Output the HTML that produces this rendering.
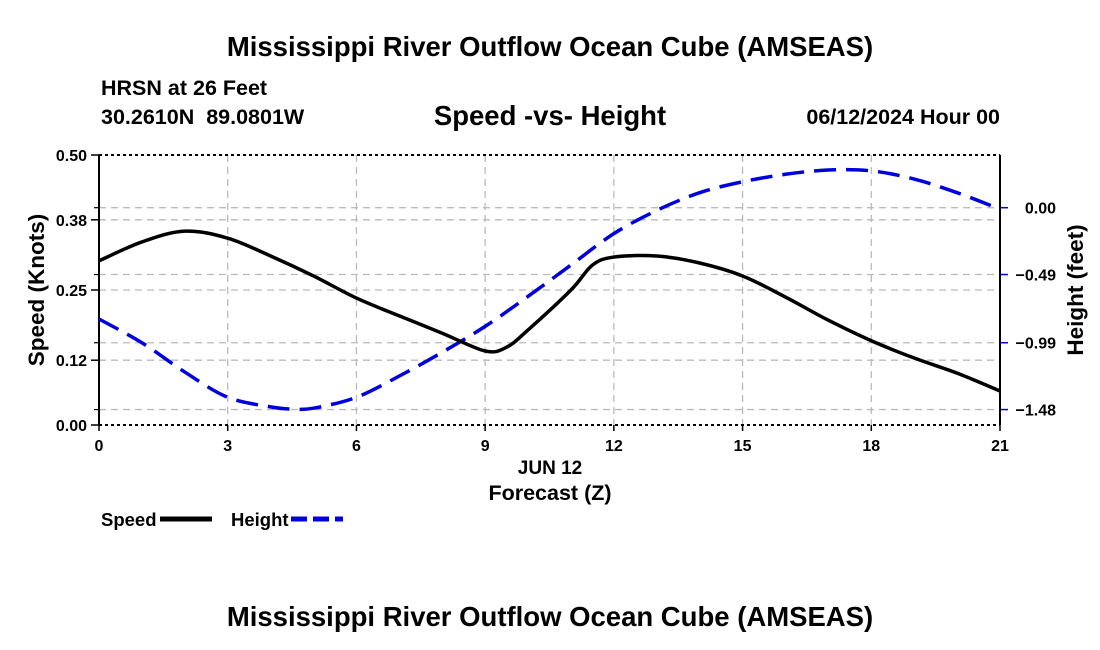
<!DOCTYPE html>
<html><head><meta charset="utf-8"><style>
body{margin:0;background:#fff;}
svg{display:block;font-family:"Liberation Sans",Arial,sans-serif;font-weight:bold;}
</style></head><body>
<svg id="c" width="1100" height="650" viewBox="0 0 1100 650">
<text x="550" y="56" font-size="27.5" text-anchor="middle">Mississippi River Outflow Ocean Cube (AMSEAS)</text>
<text x="101" y="95" font-size="21.5">HRSN at 26 Feet</text>
<text x="101" y="124" font-size="21.5">30.2610N&#160;&#160;89.0801W</text>
<text x="550" y="125" font-size="27.5" text-anchor="middle">Speed -vs- Height</text>
<text x="1000" y="124" font-size="21.5" text-anchor="end">06/12/2024 Hour 00</text>
<g id="grid"></g>
<g id="axes"></g>
<g id="series"></g>
<text x="550" y="474" font-size="19" text-anchor="middle">JUN 12</text>
<text x="550" y="500" font-size="21.5" text-anchor="middle">Forecast (Z)</text>
<text transform="translate(44,290) rotate(-90)" font-size="22.5" text-anchor="middle">Speed (Knots)</text>
<text transform="translate(1083,290) rotate(-90)" font-size="22.5" text-anchor="middle">Height (feet)</text>
<g>
<text x="101" y="526" font-size="18.5">Speed</text>
<line x1="160" y1="519" x2="212" y2="519" stroke="#000" stroke-width="5"/>
<text x="231" y="526" font-size="18.5">Height</text>
<line x1="291" y1="519" x2="343" y2="519" stroke="#0000dd" stroke-width="5" stroke-dasharray="16,6"/>
</g>
<text x="550" y="626" font-size="27.5" text-anchor="middle">Mississippi River Outflow Ocean Cube (AMSEAS)</text>
</svg>
<script>
const hours=[0,1,2,3,4,5,6,7,8,9,9.5,10,11,11.5,12,13,14,15,16,17,18,19,20,21];
const speed=[0.304,0.339,0.359,0.346,0.313,0.276,0.235,0.202,0.170,0.137,0.144,0.176,0.25,0.296,0.311,0.313,0.30,0.276,0.237,0.194,0.156,0.124,0.096,0.063];
const hHours=[0,1,2,3,4,4.5,5,6,7,8,9,10,11,12,13,14,15,16,17,18,19,20,21];
const height=[-0.816,-0.99,-1.205,-1.39,-1.46,-1.476,-1.47,-1.39,-1.234,-1.06,-0.87,-0.65,-0.42,-0.19,-0.02,0.11,0.19,0.245,0.276,0.27,0.21,0.11,-0.01];
const xTicks=[0,3,6,9,12,15,18,21];
const yTicks=[0,0.12,0.25,0.38,0.50];
const y2Ticks=[0,-0.49,-0.99,-1.48];
const y2Labels=["0.00","\u22120.49","\u22120.99","\u22121.48"];
const X0=99,X1=1000,YT=155,YB=425;
const xs=t=>X0+(X1-X0)*t/21;
const ys=v=>YB-(YB-YT)*v/0.5;
const y2s=h=>207.7-h*136.4;
const NS='http://www.w3.org/2000/svg';
function mk(p,tag,a){const e=document.createElementNS(NS,tag);for(const k in a)e.setAttribute(k,a[k]);p.appendChild(e);return e;}
const grid=document.getElementById('grid'),axes=document.getElementById('axes'),ser=document.getElementById('series');
xTicks.forEach(t=>{
 if(t>0&&t<21){const l=mk(grid,'line',{x1:xs(t),x2:xs(t),y1:YT,y2:YB,stroke:'#bbb','stroke-width':1.3,'stroke-dasharray':'7,5'});
 
 }
 const tk=mk(axes,'line',{x1:xs(t),x2:xs(t),y1:YB,y2:YB+6,stroke:'#000','stroke-width':1.5});
 
 
 const tx=mk(axes,'text',{x:xs(t),y:YB+26,'font-size':16,'text-anchor':'middle'});tx.textContent=t;
 
 
});
yTicks.forEach((v,i)=>{
 if(v>0&&v<0.5){const l=mk(grid,'line',{x1:X0,x2:X1,y1:ys(v),y2:ys(v),stroke:'#bbb','stroke-width':1.3,'stroke-dasharray':'7,5'});
 
 }
 const tk=mk(axes,'line',{x1:X0-8,x2:X0,y1:ys(v),y2:ys(v),stroke:'#000','stroke-width':1.5});
 
 
 const tx=mk(axes,'text',{x:X0-12,y:ys(v)+6,'font-size':16,'text-anchor':'end'});tx.textContent=v.toFixed(2);
 
 
});
y2Ticks.forEach((h,i)=>{
 const l=mk(grid,'line',{x1:X0,x2:X1,y1:y2s(h),y2:y2s(h),stroke:'#bbb','stroke-width':1.3,'stroke-dasharray':'7,5'});
 
 
 const lt=mk(axes,'line',{x1:X0-5,x2:X0,y1:y2s(h),y2:y2s(h),stroke:'#000','stroke-width':1.2});
 
 
 const tk=mk(axes,'line',{x1:X1,x2:X1+8,y1:y2s(h),y2:y2s(h),stroke:'#0000dd','stroke-width':1.5});
 
 
 const tx=mk(axes,'text',{x:1056,y:y2s(h)+6,'font-size':16,'text-anchor':'end'});tx.textContent=y2Labels[i];
 
 
});
[[X0,YT,X1,YT,'top'],[X0,YB,X1,YB,'bottom']].forEach(a=>{
 const l=mk(axes,'line',{x1:a[0],y1:a[1],x2:a[2],y2:a[3],stroke:'#000','stroke-width':2,'stroke-dasharray':'3,3'});
 
 
});
[[X0,'left-axis'],[X1,'right-axis']].forEach(a=>{
 const l=mk(axes,'line',{x1:a[0],y1:YT,x2:a[0],y2:YB,stroke:'#000','stroke-width':2});
 
 
});
function smooth(pts){let d='M'+pts[0][0]+','+pts[0][1];for(let i=0;i<pts.length-1;i++){const p0=pts[Math.max(0,i-1)],p1=pts[i],p2=pts[i+1],p3=pts[Math.min(pts.length-1,i+2)];
 d+=' C'+(p1[0]+(p2[0]-p0[0])/6)+','+(p1[1]+(p2[1]-p0[1])/6)+' '+(p2[0]-(p3[0]-p1[0])/6)+','+(p2[1]-(p3[1]-p1[1])/6)+' '+p2[0]+','+p2[1];}return d;}
const hp=mk(ser,'path',{d:smooth(hHours.map((t,i)=>[xs(t),y2s(height[i])])),fill:'none',stroke:'#0000dd','stroke-width':3.5,'stroke-dasharray':'22,10'});


const sp=mk(ser,'path',{d:smooth(hours.map((t,i)=>[xs(t),ys(speed[i])])),fill:'none',stroke:'#000','stroke-width':3.5});


</script>
</body></html>
